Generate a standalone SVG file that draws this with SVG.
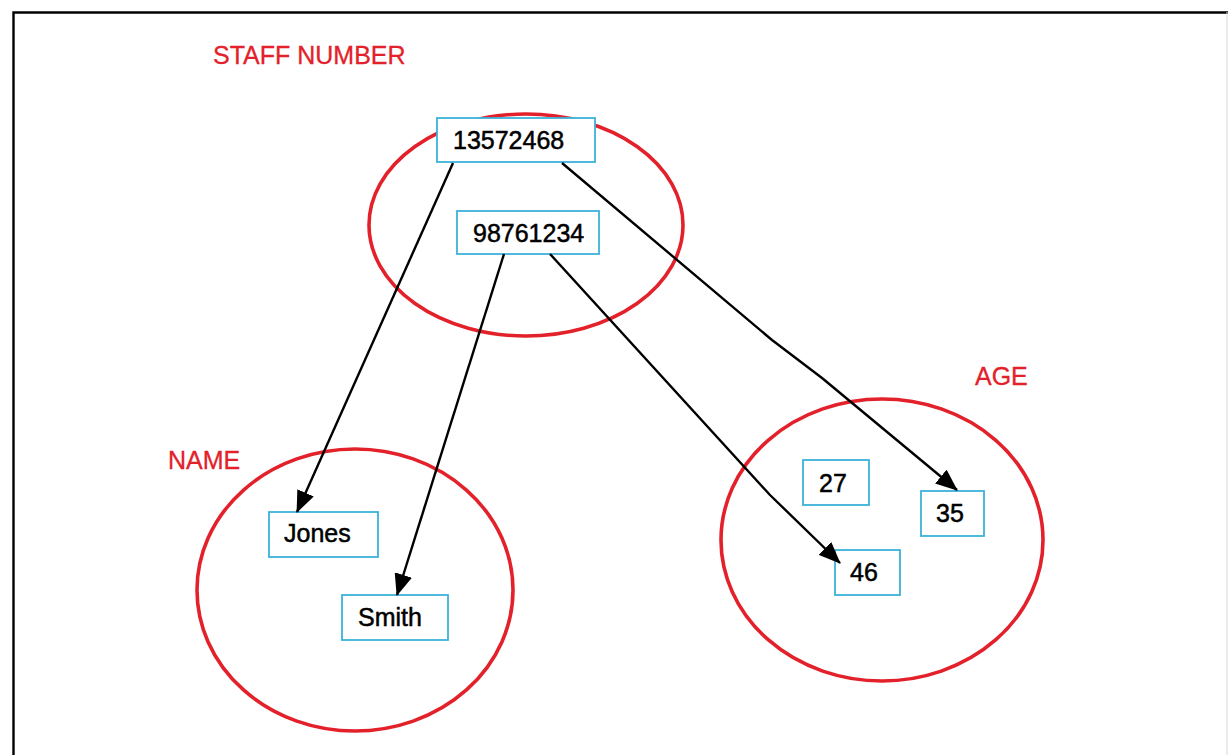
<svg xmlns="http://www.w3.org/2000/svg" width="1228" height="755" viewBox="0 0 1228 755">
  <style>
    .set { fill: none; stroke: #e3212a; stroke-width: 3.6; }
    .setlabel { font-family: "Liberation Sans", Arial, sans-serif; font-size: 25px; fill: #e3212a; stroke: #e3212a; stroke-width: 0.3; }
    .box { fill: #ffffff; stroke: #3cb2da; stroke-width: 1.8; }
    .val { font-family: "Liberation Sans", Arial, sans-serif; font-size: 25px; fill: #000000; stroke: #000000; stroke-width: 0.5; }
    .link { fill: none; stroke: #000000; stroke-width: 2.4; stroke-linejoin: round; marker-end: url(#head); }
  </style>
  <defs>
    <marker id="head" markerUnits="userSpaceOnUse" markerWidth="22" markerHeight="18" refX="21" refY="9" orient="auto">
      <path d="M0,0 L22,9 L0,18 Z" fill="#000000"/>
    </marker>
  </defs>

  <rect width="1228" height="755" fill="#ffffff"/>
  <!-- frame -->
  <path d="M13.5,755 V12.5 H1228" fill="none" stroke="#000000" stroke-width="2.4"/>
  <path d="M1227,12 V755" fill="none" stroke="#d8d8d8" stroke-width="1"/>

  <!-- sets -->
  <g id="set-staff">
    <ellipse class="set" cx="526" cy="225" rx="157" ry="111"/>
    <text class="setlabel" x="213" y="64">STAFF NUMBER</text>
  </g>
  <g id="set-name">
    <ellipse class="set" cx="355" cy="590" rx="158" ry="141"/>
    <text class="setlabel" x="168" y="469">NAME</text>
  </g>
  <g id="set-age">
    <ellipse class="set" cx="882" cy="540" rx="161" ry="141"/>
    <text class="setlabel" x="975" y="385">AGE</text>
  </g>

  <!-- elements -->
  <g id="n13572468">
    <rect class="box" x="437" y="118" width="158" height="44"/>
    <text class="val" x="453" y="149">13572468</text>
  </g>
  <g id="n98761234">
    <rect class="box" x="457" y="211" width="142" height="43"/>
    <text class="val" x="473" y="242">98761234</text>
  </g>
  <g id="nJones">
    <rect class="box" x="269" y="512" width="109" height="45"/>
    <text class="val" x="284" y="542">Jones</text>
  </g>
  <g id="nSmith">
    <rect class="box" x="342" y="595" width="106" height="45"/>
    <text class="val" x="358" y="626">Smith</text>
  </g>
  <g id="n27">
    <rect class="box" x="803" y="460" width="66" height="45"/>
    <text class="val" x="819" y="492">27</text>
  </g>
  <g id="n35">
    <rect class="box" x="921" y="491" width="63" height="45"/>
    <text class="val" x="936" y="522">35</text>
  </g>
  <g id="n46">
    <rect class="box" x="835" y="550" width="65" height="45"/>
    <text class="val" x="850" y="581">46</text>
  </g>

  <!-- mappings -->
  <g id="connectors">
    <path class="link" d="M453,163 L297,512"/>
    <path class="link" d="M504,254 L397,595"/>
    <path class="link" d="M550,254 L770,495 L840,563"/>
    <path class="link" d="M562,163 L772,340 L822,378 L957,490"/>
  </g>
</svg>
